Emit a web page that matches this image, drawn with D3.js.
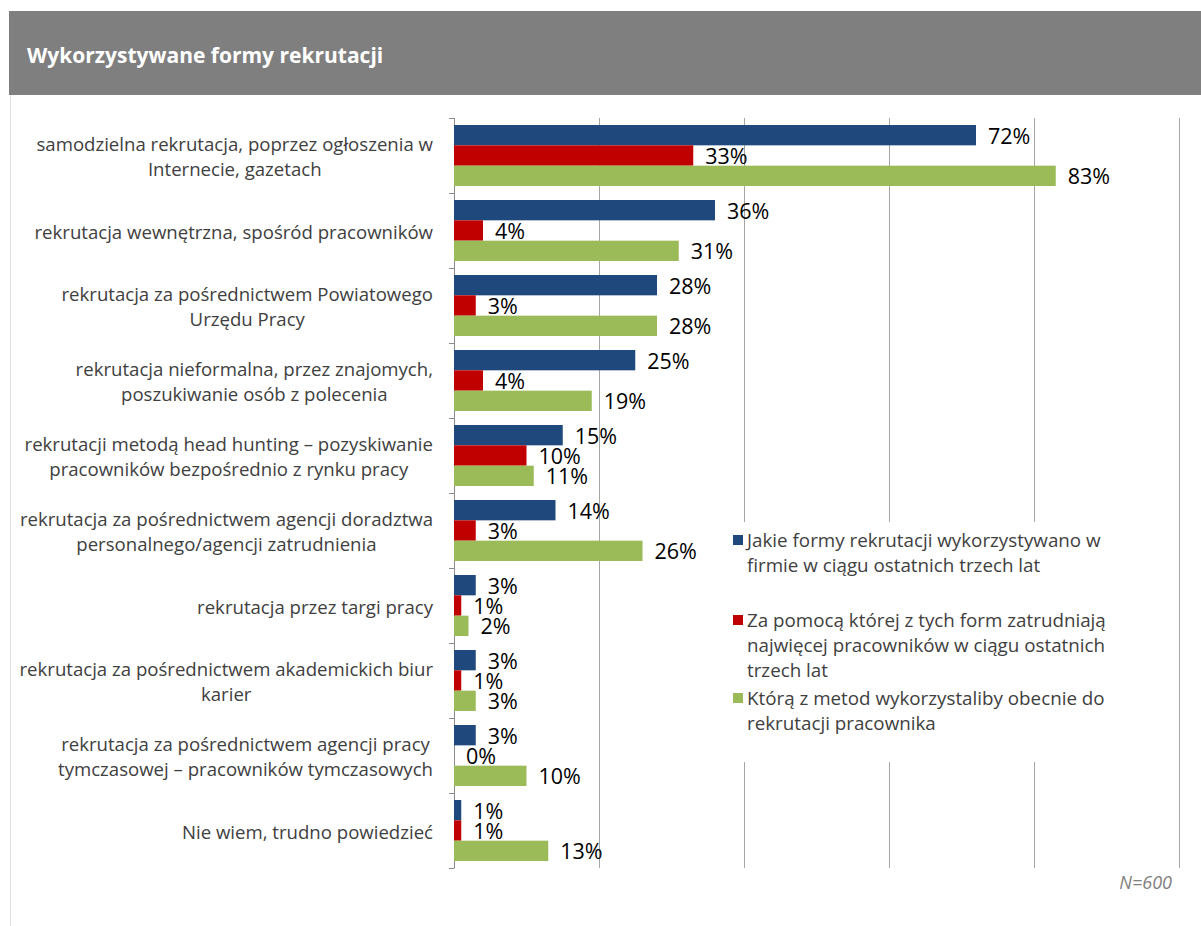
<!DOCTYPE html>
<html>
<head>
<meta charset="utf-8">
<script src="https://cdn.jsdelivr.net/npm/d3@7"></script>
<style>
  html, body { margin: 0; padding: 0; background: #fff; }
  svg { display: block; font-family: "Open Sans", "DejaVu Sans", sans-serif; }
</style>
</head>
<body>
<svg id="chart" width="1201" height="926"></svg>
<script>
// Recruitment channels (label lines separated by "\n")
const categories = [
  "samodzielna rekrutacja, poprzez ogłoszenia w\nInternecie, gazetach",
  "rekrutacja wewnętrzna, spośród pracowników",
  "rekrutacja za pośrednictwem Powiatowego\nUrzędu Pracy",
  "rekrutacja nieformalna, przez znajomych,\nposzukiwanie osób z polecenia",
  "rekrutacji metodą head hunting – pozyskiwanie\npracowników bezpośrednio z rynku pracy",
  "rekrutacja za pośrednictwem agencji doradztwa\npersonalnego/agencji zatrudnienia",
  "rekrutacja przez targi pracy",
  "rekrutacja za pośrednictwem akademickich biur\nkarier",
  "rekrutacja za pośrednictwem agencji pracy\ntymczasowej – pracowników tymczasowych",
  "Nie wiem, trudno powiedzieć"
];

const seriesNames = [
  "Jakie formy rekrutacji wykorzystywano w\nfirmie w ciągu ostatnich trzech lat",
  "Za pomocą której z tych form zatrudniają\nnajwięcej pracowników w ciągu ostatnich\ntrzech lat",
  "Którą z metod wykorzystaliby obecnie do\nrekrutacji pracownika"
];

const usedLast3Years   = [72, 36, 28, 25, 15, 14, 3, 3, 3, 1];
const mostHiresLast3Y  = [33, 4, 3, 4, 10, 3, 1, 1, 0, 1];
const wouldUseNow      = [83, 31, 28, 19, 11, 26, 2, 3, 10, 13];

const xTicks = [0, 20, 40, 60, 80, 100];

const title = "Wykorzystywane formy rekrutacji";
const sampleNote = "N=600";

const seriesColors = ["#1F497D", "#C00000", "#9BBB59"];
const seriesValues = [usedLast3Years, mostHiresLast3Y, wouldUseNow];

const svg = d3.select("#chart");

// Header band
svg.append("rect").attr("x", 9).attr("y", 11).attr("width", 1192).attr("height", 84)
  .attr("fill", "#7f7f7f");
svg.append("text").attr("x", 27).attr("y", 55)
  .attr("dominant-baseline", "central")
  .attr("fill", "#ffffff").attr("font-weight", 700).attr("font-size", 21)
  .text(title);

// Thin frame line on the left of the panel
svg.append("line").attr("x1", 10.5).attr("x2", 10.5).attr("y1", 95).attr("y2", 926)
  .attr("stroke", "#e3e3e3").attr("stroke-width", 1);

// Scales
const x = d3.scaleLinear().domain([0, 100]).range([454, 1179]);
const y0 = d3.scaleBand().domain(d3.range(categories.length))
  .range([118, 868]).paddingInner(0.187).paddingOuter(0.0935);
const y1 = d3.scaleBand().domain(d3.range(seriesValues.length))
  .range([0, y0.bandwidth()]);

const plotTop = 118, plotBottom = 868;

// Vertical gridlines
svg.append("g").selectAll("line").data(xTicks.filter(t => t > 0)).join("line")
  .attr("x1", d => Math.round(x(d)) + 0.5).attr("x2", d => Math.round(x(d)) + 0.5)
  .attr("y1", plotTop).attr("y2", plotBottom)
  .attr("stroke", "#a6a6a6").attr("stroke-width", 1);

// Category axis with ticks at band boundaries
const boundaries = d3.range(categories.length + 1).map(i => plotTop + i * y0.step());
const axisG = svg.append("g");
axisG.append("line").attr("x1", 454.5).attr("x2", 454.5).attr("y1", plotTop).attr("y2", plotBottom)
  .attr("stroke", "#8c8c8c");
axisG.selectAll("line.tick").data(boundaries).join("line").attr("class", "tick")
  .attr("x1", 449).attr("x2", 454.5)
  .attr("y1", d => Math.round(d) + 0.5).attr("y2", d => Math.round(d) + 0.5)
  .attr("stroke", "#8c8c8c");

// Bars
const groups = svg.append("g").selectAll("g").data(categories).join("g")
  .attr("transform", (d, i) => `translate(0,${y0(i)})`);

groups.each(function(cat, ci) {
  const g = d3.select(this);
  seriesValues.forEach((vals, si) => {
    const v = vals[ci];
    g.append("rect")
      .attr("x", x(0)).attr("y", y1(si))
      .attr("width", x(v) - x(0)).attr("height", y1.bandwidth())
      .attr("fill", seriesColors[si]);
    g.append("text")
      .attr("x", x(v) + 12).attr("y", y1(si) + y1.bandwidth() / 2)
      .attr("dominant-baseline", "central")
      .attr("font-size", 21.5).attr("fill", "#000")
      .text(v + "%");
  });
});

// Category labels (multi-line, centred within a right-aligned block)
const labelRight = 433;
const lineH = 25;
categories.forEach((cat, ci) => {
  const lines = cat.split("\n");
  const cy = y0(ci) + y0.bandwidth() / 2;
  const t = svg.append("text").attr("font-size", 18.6).attr("fill", "#404040")
    .attr("text-anchor", "middle").attr("dominant-baseline", "central");
  const spans = lines.map((ln, li) =>
    t.append("tspan").attr("y", cy + (li - (lines.length - 1) / 2) * lineH).text(ln));
  const maxW = d3.max(spans, s => s.node().getComputedTextLength());
  spans.forEach(s => s.attr("x", labelRight - maxW / 2));
});

// Legend on a white panel above the gridlines
const legend = svg.append("g");
legend.append("rect").attr("x", 726).attr("y", 522).attr("width", 386).attr("height", 240)
  .attr("fill", "#fff");
const legendTops = [540, 620, 698];
seriesNames.forEach((name, si) => {
  const top = legendTops[si];
  legend.append("rect").attr("x", 733).attr("y", top - 5).attr("width", 10).attr("height", 10)
    .attr("fill", seriesColors[si]);
  const t = legend.append("text").attr("font-size", 18.8).attr("fill", "#404040")
    .attr("dominant-baseline", "central");
  name.split("\n").forEach((ln, li) => {
    t.append("tspan").attr("x", 747).attr("y", top + li * lineH).text(ln);
  });
});

// Sample size note
svg.append("text").attr("x", 1172).attr("y", 882)
  .attr("text-anchor", "end").attr("dominant-baseline", "central")
  .attr("font-style", "italic").attr("font-size", 18).attr("fill", "#808080")
  .text(sampleNote);
</script>
</body>
</html>
